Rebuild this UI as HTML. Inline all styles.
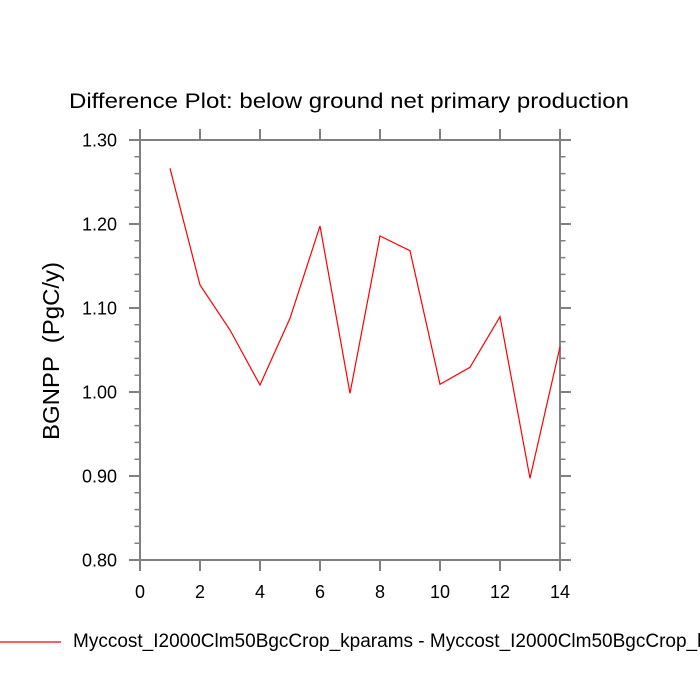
<!DOCTYPE html>
<html><head><meta charset="utf-8"><style>
html,body{margin:0;padding:0;background:#fff;width:700px;height:700px;overflow:hidden}
svg{display:block}
text{font-family:"Liberation Sans",Arial,sans-serif;fill:#000}
</style></head><body>
<svg width="700" height="700" viewBox="0 0 700 700" xmlns="http://www.w3.org/2000/svg">
<rect width="700" height="700" fill="#fff"/>
<text x="69" y="108" font-size="21" textLength="560" lengthAdjust="spacingAndGlyphs">Difference Plot: below ground net primary production</text>
<g stroke="#808080" stroke-width="2" fill="none">
<rect x="140" y="140" width="420" height="420"/>
<!-- x major ticks bottom & top -->
<path d="M140 560V571M200 560V571M260 560V571M320 560V571M380 560V571M440 560V571M500 560V571M560 560V571
M140 140V129M200 140V129M260 140V129M320 140V129M380 140V129M440 140V129M500 140V129M560 140V129"/>
<!-- y major ticks -->
<path d="M140 140H129M140 224H129M140 308H129M140 392H129M140 476H129M140 560H129
M560 140H571M560 224H571M560 308H571M560 392H571M560 476H571M560 560H571"/>
</g>
<g stroke="#808080" stroke-width="1.5" fill="none">
<path d="M140 156.8H134.5M140 173.6H134.5M140 190.4H134.5M140 207.2H134.5
M140 240.8H134.5M140 257.6H134.5M140 274.4H134.5M140 291.2H134.5
M140 324.8H134.5M140 341.6H134.5M140 358.4H134.5M140 375.2H134.5
M140 408.8H134.5M140 425.6H134.5M140 442.4H134.5M140 459.2H134.5
M140 492.8H134.5M140 509.6H134.5M140 526.4H134.5M140 543.2H134.5
M560 156.8H565.5M560 173.6H565.5M560 190.4H565.5M560 207.2H565.5
M560 240.8H565.5M560 257.6H565.5M560 274.4H565.5M560 291.2H565.5
M560 324.8H565.5M560 341.6H565.5M560 358.4H565.5M560 375.2H565.5
M560 408.8H565.5M560 425.6H565.5M560 442.4H565.5M560 459.2H565.5
M560 492.8H565.5M560 509.6H565.5M560 526.4H565.5M560 543.2H565.5"/>
</g>
<g font-size="18" text-anchor="end">
<text x="117" y="146.5">1.30</text>
<text x="117" y="230.5">1.20</text>
<text x="117" y="314.5">1.10</text>
<text x="117" y="398.5">1.00</text>
<text x="117" y="482.5">0.90</text>
<text x="117" y="566.5">0.80</text>
</g>
<g font-size="18" text-anchor="middle">
<text x="140" y="598">0</text>
<text x="200" y="598">2</text>
<text x="260" y="598">4</text>
<text x="320" y="598">6</text>
<text x="380" y="598">8</text>
<text x="440" y="598">10</text>
<text x="500" y="598">12</text>
<text x="560" y="598">14</text>
</g>
<text transform="translate(59,440) rotate(-90)" font-size="23" textLength="178" lengthAdjust="spacingAndGlyphs" xml:space="preserve">BGNPP  (PgC/y)</text>
<polyline fill="none" stroke="#ff0000" stroke-width="1.2" stroke-linejoin="miter" points="170,168.3 200,285 230,330 260,385 290,318.3 320,226 350,393.3 380,236 410,250.7 440,384.3 470,367.3 500,316.7 530,478.3 560,346.7"/>
<line x1="0" y1="642" x2="61" y2="642" stroke="#ff0000" stroke-width="1.2"/>
<text x="73" y="647" font-size="19">Myccost_I2000Clm50BgcCrop_kparams - Myccost_I2000Clm50BgcCrop_kparams_ref</text>
</svg>
</body></html>
